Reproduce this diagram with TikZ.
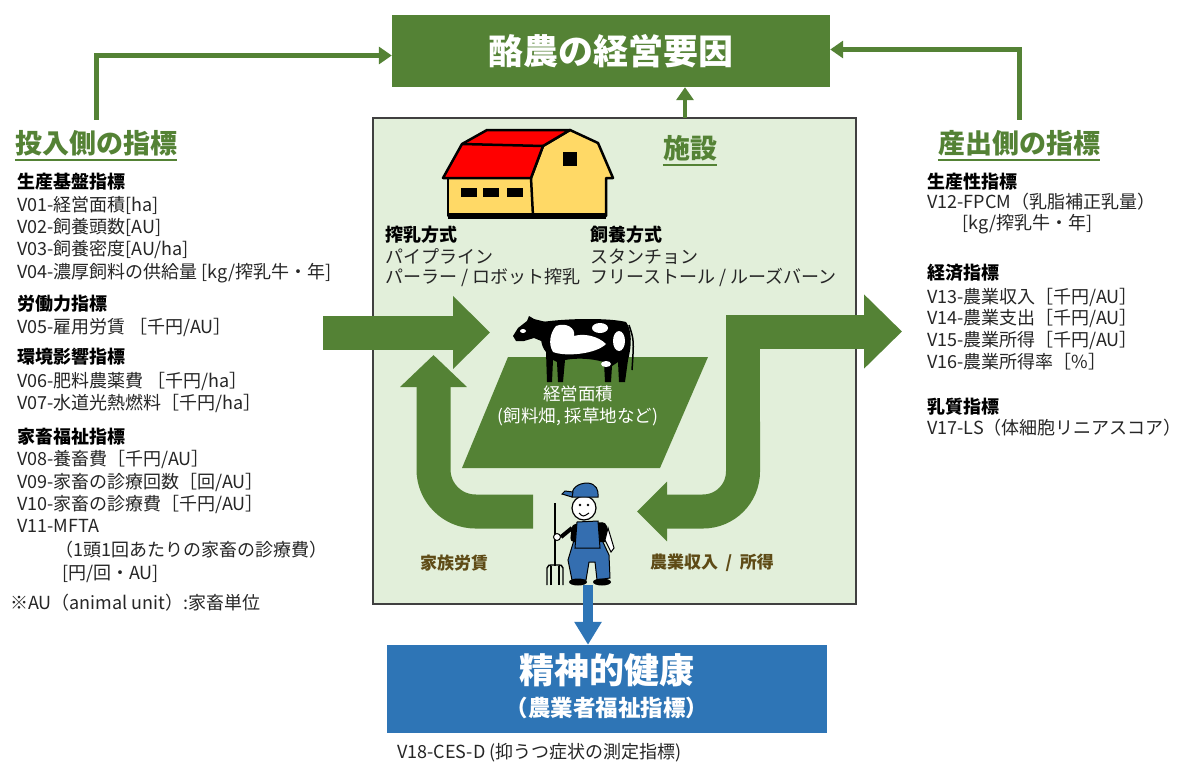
\documentclass[tikz,border=0pt]{standalone}
\usepackage{fontspec}
\setmainfont{Noto Sans CJK JP}
\usetikzlibrary{arrows.meta}

\definecolor{leaf}{RGB}{84,130,53}
\definecolor{pale}{RGB}{226,239,218}
\definecolor{sea}{RGB}{46,117,182}
\definecolor{ink}{RGB}{38,38,38}
\definecolor{soil}{RGB}{94,75,22}
\definecolor{roof}{RGB}{255,0,0}
\definecolor{wall}{RGB}{255,217,102}
\definecolor{denim}{RGB}{52,110,176}
\definecolor{frame}{RGB}{64,64,64}

\tikzset{
  item/.style={anchor=base west, inner sep=0pt, text=ink, yshift=-6.8pt,
    font=\fontsize{18}{22}\selectfont},
  group/.style={item, text=black, font=\fontsize{18}{22}\selectfont\bfseries},
  headline/.style={inner sep=0pt, text=leaf, font=\fontsize{27}{30}\selectfont\bfseries},
  uline/.style={draw=leaf, line width=2pt},
  link/.style={draw=leaf, line width=5pt, -{Triangle[length=13pt,width=17pt]}},
  flow/.style={draw=leaf, line width=34pt},
  flowlbl/.style={inner sep=0pt, text=soil, font=\fontsize{17}{20}\selectfont\bfseries},
  outline/.style={draw=black, line width=2.5pt, line join=round}
}

\begin{document}
\begin{tikzpicture}[x=1pt, y=-1pt]
  \useasboundingbox (0,0) rectangle (1190,765);
  \fill[white] (0,0) rectangle (1190,765);

  % boxes
  \node[fill=leaf, minimum width=438pt, minimum height=72pt, text=white,
    font=\fontsize{35}{40}\selectfont\bfseries] (factors) at (611,51) {酪農の経営要因};
  \node[fill=pale, draw=frame, line width=1.2pt,
    minimum width=483pt, minimum height=486pt] (site) at (614.5,361) {};
  \node[fill=sea, minimum width=440pt, minimum height=88pt] (health) at (607,689) {};
  \node[text=white, inner sep=0pt, font=\fontsize{35}{40}\selectfont\bfseries] (health-a) at (607,670) {精神的健康};
  \node[text=white, inner sep=0pt, font=\fontsize{22.5}{26}\selectfont\bfseries] (health-b) at (607,708) {（農業者福祉指標）};
  \node[item] (v18) at (397,752) {V18-CES-D (抑うつ症状の測定指標)};

  % headlines and links to the top box
  \node[headline] (in-head) at (96,143) {投入側の指標};
  \node[headline] (out-head) at (1019,143) {産出側の指標};
  \node[headline] (site-head) at (690,148) {施設};
  \foreach \h in {in-head, out-head, site-head}
    \draw[uline] ([yshift=-3.5pt]\h.south west) -- ([yshift=-3.5pt]\h.south east);
  \draw[link] ([yshift=10pt]in-head.north) |- ([yshift=-4.5pt]factors.west);
  \draw[link] ([yshift=10pt]out-head.north) |- ([yshift=1.5pt]factors.east);
  \coordinate (c-top) at (685,118);
  \draw[link, line width=4pt] (c-top) -- (c-top |- factors.south);

  % input side
  \node[group] (base) at (17,182) {生産基盤指標};
  \node[item] (v01) at (17,205) {V01-経営面積[ha]};
  \node[item] (v02) at (17,227) {V02-飼養頭数[AU]};
  \node[item] (v03) at (17,249) {V03-飼養密度[AU/ha]};
  \node[item] (v04) at (17,272) {V04-濃厚飼料の供給量 [kg/搾乳牛・年]};
  \node[group] (labour-grp) at (17,304) {労働力指標};
  \node[item] (v05) at (17,327) {V05-雇用労賃 ［千円/AU］};
  \node[group] (env) at (17,357) {環境影響指標};
  \node[item] (v06) at (17,381) {V06-肥料農薬費 ［千円/ha］};
  \node[item] (v07) at (17,403) {V07-水道光熱燃料［千円/ha］};
  \node[group] (welfare) at (17,437) {家畜福祉指標};
  \node[item] (v08) at (17,459) {V08-養畜費［千円/AU］};
  \node[item] (v09) at (17,482) {V09-家畜の診療回数［回/AU］};
  \node[item] (v10) at (17,504) {V10-家畜の診療費［千円/AU］};
  \node[item] (v11) at (17,526) {V11-MFTA};
  \node[item] (v11-a) at (55,550) {（1頭1回あたりの家畜の診療費）};
  \node[item] (v11-b) at (62,573) {[円/回・AU]};
  \node[item] (au) at (10,603) {※AU（animal unit）:家畜単位};

  % output side
  \node[group] (prod) at (927,182) {生産性指標};
  \node[item] (v12) at (927,202) {V12-FPCM（乳脂補正乳量）};
  \node[item] (v12-a) at (962,223) {[kg/搾乳牛・年]};
  \node[group] (econ) at (927,273) {経済指標};
  \node[item] (v13) at (927,297) {V13-農業収入［千円/AU］};
  \node[item] (v14) at (927,318) {V14-農業支出［千円/AU］};
  \node[item] (v15) at (927,340) {V15-農業所得［千円/AU］};
  \node[item] (v16) at (927,362) {V16-農業所得率［\%］};
  \node[group] (milk) at (927,407) {乳質指標};
  \node[item] (v17) at (927,428) {V17-LS（体細胞リニアスコア）};

  % facility texts
  \node[group] (milking) at (385,235) {搾乳方式};
  \node[item] (m1) at (385,257) {パイプライン};
  \node[item] (m2) at (385,277) {パーラー / ロボット搾乳};
  \node[group] (housing) at (590,235) {飼養方式};
  \node[item] (h1) at (590,257) {スタンチョン};
  \node[item] (h2) at (590,277) {フリーストール / ルーズバーン};

  % barn
  \filldraw[fill=wall, outline] (448,178) rectangle (533,216);
  \filldraw[fill=wall, outline] (533,216) -- (531,178) -- (543,146) -- (570,130)
    -- (598,143) -- (613,178) -- (606,178) -- (606,216) -- cycle;
  \filldraw[fill=roof, outline] (443,178) -- (462,144) -- (487,130) -- (570,130)
    -- (543,146) -- (531,178) -- cycle;
  \draw[outline] (462,144) -- (543,146);
  \draw[line width=6pt] (448,216) -- (606,216);
  \foreach \x in {461,483,507}
    \fill (\x,188) rectangle (\x+16,197);
  \fill (563,152) rectangle (577,166);

  % flows
  \coordinate (in-tail) at (323,332.5);
  \coordinate (in-tip) at (490,332.5);
  \draw[flow, -{Triangle[length=37pt,width=71pt]}] (in-tail) -- (in-tip);
  \coordinate (wage-tail) at (533,511.5);
  \coordinate (wage-tip) at (433.5,355);
  \draw[flow, rounded corners=42pt, -{Triangle[length=32pt,width=65pt]}]
    (wage-tail) -- (wage-tip |- wage-tail) -- (wage-tip);
  \coordinate (bend) at (743,331.5);
  \coordinate (out-tip) at (902,331.5);
  \coordinate (income-tip) at (637,511.5);
  \draw[flow, rounded corners=40pt, -{Triangle[length=30pt,width=58pt]}]
    ([yshift=-90pt]bend) -- (bend |- income-tip) -- (income-tip);
  \draw[flow, line join=miter, -{Triangle[length=38pt,width=72pt]}]
    ([yshift=-100pt]bend) -- (bend) -- (out-tip);
  \node[flowlbl] (wage) at (454,563) {家族労賃};
  \node[flowlbl] (income) at (712,563) {農業収入\hspace{0.45em}/\hspace{0.45em}所得};

  % field
  \fill[leaf] (508,357) -- (708,357) -- (660,468) -- (462,468) -- cycle;
  \node[text=white, align=center, inner sep=0pt, font=\fontsize{17.5}{22}\selectfont]
    (field) at (578,406) {経営面積\\(飼料畑, 採草地など)};

  % cow
  \fill (542,322) .. controls (570,318) and (610,318) .. (626,322)
    .. controls (632,330) and (632,345) .. (628,360) -- (625,382) -- (619,382)
    -- (618,362) -- (612,366) -- (611,382) -- (605,382) -- (604,362)
    .. controls (590,358) and (575,358) .. (565,360) -- (563,382) -- (558,382)
    -- (557,362) -- (553,360) -- (552,382) -- (547,382) -- (546,352)
    .. controls (540,345) and (540,335) .. (542,322) -- cycle;
  \fill (546,322) -- (534,319) -- (529,316) -- (527,321) -- (518,328) -- (513,336)
    -- (516,341) -- (524,341) -- (534,338) -- (546,343) -- cycle;
  \fill[white] (556,326) .. controls (566,322) and (576,328) .. (574,336)
    .. controls (584,333) and (598,336) .. (606,344)
    .. controls (596,354) and (566,357) .. (553,352)
    .. controls (548,344) and (550,333) .. (556,326) -- cycle;
  \fill[white] (600,328) ellipse (8pt and 5pt);
  \fill[white] (619,341) ellipse (6pt and 10pt);
  \fill[white] (523,331) ellipse (3pt and 2pt);
  \fill[white] (606,364) ellipse (5pt and 3pt);
  \draw[line width=1.5pt] (629,325) .. controls (634,340) .. (632,370);

  % farmer
  \coordinate (farmer) at (588,585);
  \draw[line width=1.8pt] (555,503) -- (555,566);
  \draw[line width=1.4pt] (547,585) -- (547,568) .. controls (548,565) .. (555,565)
    .. controls (562,565) .. (563,568) -- (563,585);
  \draw[line width=1.2pt] (551,585) -- (551,566) (559,585) -- (559,566);
  \filldraw[fill=denim, line width=1pt] (574,540) -- (602,540) -- (609,555) -- (610,578)
    -- (597,580) -- (595,562) -- (589,562) -- (586,580) -- (572,580) -- (568,560) -- cycle;
  \fill[rounded corners=4pt] (570,542) -- (572,524) -- (606,522) -- (610,542) -- cycle;
  \filldraw[fill=denim, line width=1pt] (577,522) -- (598,521) -- (600,548) -- (575,548) -- cycle;
  \filldraw[fill=white, line width=1pt] (608,528) -- (614,548) -- (611,552) -- (605,540) -- cycle;
  \draw[line width=4pt] (572,528) -- (561,537);
  \filldraw[fill=white, line width=1pt] (557,537) circle (3.5pt);
  \fill (578,582) ellipse (9pt and 3.5pt);
  \fill (602,582) ellipse (9pt and 3.5pt);
  \filldraw[fill=white, line width=1.2pt] (584,508) circle (12pt);
  \fill (580,505) circle (1.3pt) (588,505) circle (1.3pt);
  \draw[line width=1pt] (579,513) .. controls (583,517) .. (589,513);
  \filldraw[fill=denim, line width=1pt] (572,497) .. controls (571,488) and (578,483) .. (588,483)
    .. controls (596,484) and (599,490) .. (598,497) -- cycle;
  \filldraw[fill=denim, line width=1pt] (572,497) -- (562,494) -- (565,491) -- (573,492) -- cycle;

  % farmer to health
  \draw[draw=sea, line width=10pt, -{Triangle[length=23pt,width=26pt]}]
    (farmer) -- (farmer |- health.north);
\end{tikzpicture}
\end{document}
